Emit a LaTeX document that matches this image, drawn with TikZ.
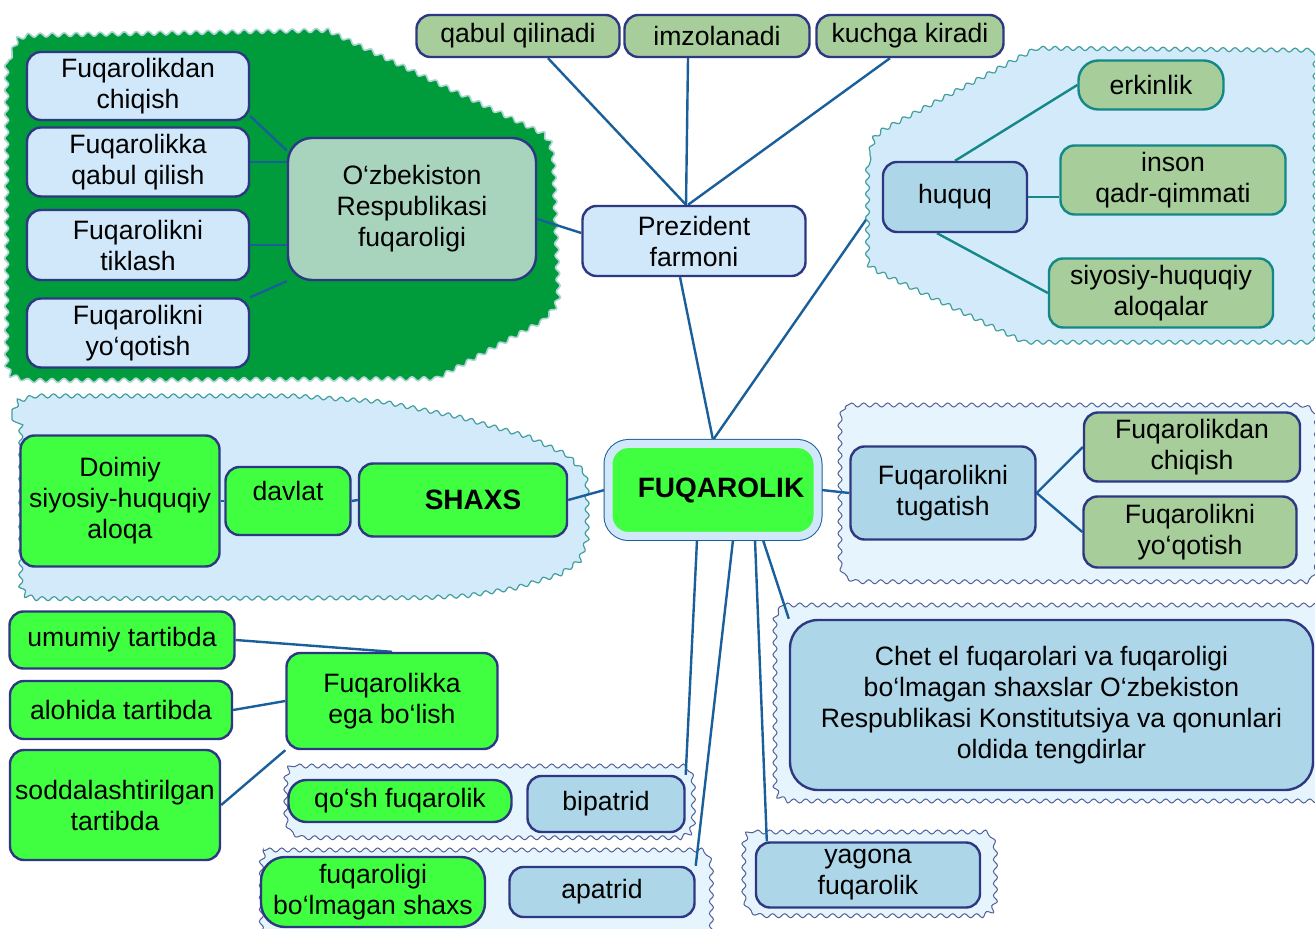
\documentclass[tikz,border=0pt]{standalone}
\usepackage{fontspec}
\setmainfont{Liberation Sans}
\usetikzlibrary{positioning,calc,decorations.pathmorphing}
\pgfdeclarelayer{back}
\pgfdeclarelayer{zones}
\pgfdeclarelayer{links}
\pgfsetlayers{back,zones,links,main}

\definecolor{cnavy}{RGB}{46,56,130}
\definecolor{cline}{RGB}{25,95,155}
\definecolor{cteal}{RGB}{20,135,135}
\definecolor{cpale}{RGB}{208,232,250}
\definecolor{csky}{RGB}{173,214,232}
\definecolor{clime}{RGB}{64,255,64}
\definecolor{csage}{RGB}{166,205,154}
\definecolor{cmint}{RGB}{168,212,190}
\definecolor{cforest}{RGB}{0,155,58}
\definecolor{czone}{RGB}{210,234,250}
\definecolor{cfaint}{RGB}{230,244,253}
\definecolor{cslate}{RGB}{80,95,150}

\begin{document}
\begin{tikzpicture}[
    x=0.5pt, y=-0.5pt,
    font=\fontsize{13.3}{15.5}\selectfont,
    box/.style={rectangle, rounded corners=7pt, draw=cnavy, line width=1.2pt, align=center, inner sep=0pt},
    palebox/.style={box, fill=cpale},
    skybox/.style={box, fill=csky},
    limebox/.style={box, fill=clime},
    sagebox/.style={box, fill=csage},
    tealbox/.style={box, fill=csage, draw=cteal},
    link/.style={draw=cline, line width=1.2pt},
    tlink/.style={draw=cteal, line width=1.2pt},
    zone/.style={decorate, decoration={snake, segment length=6pt, amplitude=1pt}},
    bluezone/.style={zone, fill=czone, draw=cteal!80, line width=0.6pt},
    faintzone/.style={zone, fill=cfaint, draw=cslate, line width=0.5pt},
  ]

    \begin{pgfonlayer}{back}
      \fill[white] (0,0) rectangle (1315,929);
    \end{pgfonlayer}
    \useasboundingbox (0,0) rectangle (1315,929);

    % --- zones ---
    \begin{pgfonlayer}{zones}
      \path[zone, fill=cforest, draw=white!65!cteal, line width=0.8pt]
        (12,52) -- (17,41) -- (30,37) -- (330,32) -- (545,135) -- (553,145) -- (556,160)
        -- (561,300) -- (556,314) -- (545,326) -- (440,383) -- (30,385) -- (17,381) -- (12,370) -- cycle;
      \path[bluezone]
        (870,152) -- (873,142) -- (882,134) -- (1040,50) -- (1313,52) -- (1313,342)
        -- (1027,342) -- (882,272) -- (873,266) -- (870,256) -- cycle;
      \path[bluezone]
        (12,414) -- (18,402) -- (32,398) -- (290,398) -- (380,404) -- (460,420) -- (530,440)
        -- (568,458) -- (582,472) -- (585,488) -- (585,540) -- (578,560) -- (555,576)
        -- (510,590) -- (460,598) -- (420,600) -- (32,601) -- (18,597) -- (12,586) -- cycle;
      % tugatish
      \path[faintzone] (848,405) -- (1300,405) -- (1309,409) -- (1312,418) -- (1312,565) -- (1309,574)
        -- (1300,578) -- (848,578) -- (839,574) -- (836,565) -- (836,418) -- (839,409) -- cycle;
      % chet el
      \path[faintzone] (784,605) -- (1318,605) -- (1318,800) -- (784,800) -- (775,796) -- (772,787)
        -- (772,618) -- (775,609) -- cycle;
      % bipatrid
      \path[faintzone] (296,766) -- (678,766) -- (687,770) -- (690,779) -- (690,825) -- (687,834)
        -- (678,838) -- (296,838) -- (287,834) -- (284,825) -- (284,779) -- (287,770) -- cycle;
      % apatrid
      \path[faintzone] (266,850) -- (696,850) -- (705,854) -- (708,863) -- (708,940) -- (254,940)
        -- (254,863) -- (257,854) -- cycle;
      % yagona
      \path[faintzone] (754,832) -- (981,832) -- (990,836) -- (993,845) -- (993,902) -- (990,911)
        -- (981,915) -- (754,915) -- (745,911) -- (742,902) -- (742,845) -- (745,836) -- cycle;
    \end{pgfonlayer}

    % --- top ---
    \node[sagebox, minimum width=101.5pt, minimum height=21pt] (qabul) at (518,36) {qabul qilinadi};
    \node[sagebox, minimum width=92.5pt, minimum height=21pt] (imzo) at (717,36) {imzolanadi};
    \node[sagebox, minimum width=93.5pt, minimum height=21pt] (kuchga) at (910,36) {kuchga kiradi};
    \node[palebox, minimum width=111.5pt, minimum height=35pt] (prez) at (694,241) {Prezident\\farmoni};

    % --- green zone ---
    \node[palebox, minimum width=111pt, minimum height=34pt] (chiqL) at (138,86) {Fuqarolikdan\\chiqish};
    \node[palebox, minimum width=111pt, minimum height=34.5pt] (qabulL) at (138,162) {Fuqarolikka\\qabul qilish};
    \node[palebox, minimum width=111pt, minimum height=35pt] (tiklash) at (138,245) {Fuqarolikni\\tiklash};
    \node[palebox, minimum width=111pt, minimum height=34.5pt] (yoqL) at (138,333) {Fuqarolikni\\yo‘qotish};
    \node[box, fill=cmint, minimum width=124pt, minimum height=71pt, rounded corners=12pt] (uzb) at (412,209) {O‘zbekiston\\Respublikasi\\fuqaroligi};

    % --- huquq zone ---
    \node[skybox, minimum width=72pt, minimum height=35pt] (huquq) at (955,197) {huquq};
    \node[tealbox, minimum width=72.5pt, minimum height=24.5pt, rounded corners=10pt] (erkin) at (1151,85) {erkinlik};
    \node[tealbox, minimum width=112.5pt, minimum height=34.5pt] (inson) at (1173,180) {inson\\qadr-qimmati};
    \node[tealbox, minimum width=112pt, minimum height=34.5pt] (siyosiy) at (1161,293) {siyosiy-huquqiy\\aloqalar};

    % --- centre ---
    \node[box, fill=clime, draw=cpale, line width=4pt, rounded corners=10pt,
          preaction={draw=cline, line width=5pt},
          minimum width=104.5pt, minimum height=46pt, font=\fontsize{14}{16}\selectfont\bfseries] (fuq) at (713,490) {\hspace{8pt}FUQAROLIK};

    % --- shaxs zone ---
    \node[limebox, minimum width=99.5pt, minimum height=65.5pt] (doimiy) at (120,501) {Doimiy\\siyosiy-huquqiy\\aloqa};
    \node[limebox, minimum width=62.5pt, minimum height=34pt] (davlat) at (288,501) {\raisebox{10pt}{davlat}};
    \node[limebox, minimum width=104pt, minimum height=36.5pt, font=\fontsize{14}{16}\selectfont\bfseries] (shaxs) at (463,500) {\hspace{10pt}SHAXS};

    % --- tugatish zone ---
    \node[skybox, minimum width=92.5pt, minimum height=46.5pt] (tugat) at (943,493) {Fuqarolikni\\tugatish};
    \node[sagebox, minimum width=108pt, minimum height=34.5pt] (chiqR) at (1192,447) {Fuqarolikdan\\chiqish};
    \node[sagebox, minimum width=106.5pt, minimum height=35.5pt] (yoqR) at (1190,532) {Fuqarolikni\\yo‘qotish};

    \node[skybox, minimum width=261.5pt, minimum height=85pt, rounded corners=14pt] (chet) at (1051.5,705)
      {Chet el fuqarolari va fuqaroligi\\bo‘lmagan shaxslar O‘zbekiston\\Respublikasi Konstitutsiya va qonunlari\\oldida tengdirlar};

    % --- lower left ---
    \node[limebox, minimum width=112.5pt, minimum height=28.5pt] (umumiy) at (122,640) {umumiy tartibda};
    \node[limebox, minimum width=111pt, minimum height=29pt] (alohida) at (121,710) {alohida tartibda};
    \node[limebox, minimum width=105pt, minimum height=55pt] (sodda) at (115,805) {soddalashtirilgan\\tartibda};
    \node[limebox, minimum width=105.5pt, minimum height=48pt] (fuqega) at (392,701) {Fuqarolikka\\ega bo‘lish};

    % --- bottom ---
    \node[limebox, minimum width=111.5pt, minimum height=21pt, rounded corners=9pt] (qosh) at (400,801) {qo‘sh fuqarolik};
    \node[skybox, minimum width=78.5pt, minimum height=28pt] (bipat) at (606,804) {bipatrid};
    \node[limebox, minimum width=112pt, minimum height=35pt, rounded corners=12pt] (fuqbolm) at (373,892) {fuqaroligi\\bo‘lmagan shaxs};
    \node[skybox, minimum width=92.5pt, minimum height=25pt] (apat) at (602,892) {apatrid};
    \node[skybox, minimum width=112pt, minimum height=32.5pt] (yagona) at (868,875) {yagona\\fuqarolik};

    % --- connectors ---
    \begin{pgfonlayer}{back}
      \draw[link] (fuq.north) -- (huquq.west);
    \end{pgfonlayer}
    \begin{pgfonlayer}{links}
      \draw[link] ([xshift=-4pt]prez.north) -- ([xshift=15pt]qabul.south);
      \draw[link] ([xshift=-4pt]prez.north) -- ([xshift=-14.5pt]imzo.south);
      \draw[link] ([xshift=-3pt]prez.north) -- ([xshift=-10pt]kuchga.south);
      \draw[link] ([xshift=-7pt]prez.south) -- (fuq.north);
      \draw[link] ([yshift=-5pt]uzb.east) -- ([yshift=4pt]prez.west);

      \draw[link] (chiqL.-15) -- (uzb.155);
      \draw[link] (qabulL.east) -- (qabulL.east -| uzb.west);
      \draw[link] (tiklash.east) -- (tiklash.east -| uzb.west);
      \draw[link] (yoqL.north east) -- (uzb.south west);

      \draw[tlink] (huquq.north) -- (erkin.west);
      \draw[tlink] (huquq.east) -- (huquq.east -| inson.west);
      \draw[tlink] ([xshift=-9pt]huquq.south) -- (siyosiy.west);

      \draw[link] (fuq.west) -- (shaxs.east);
      \draw[link] (shaxs.west) -- (davlat.east);
      \draw[link] (davlat.west) -- (doimiy.east);

      \draw[link] (fuq.east) -- (tugat.west);
      \draw[link] (tugat.east) -- (chiqR.west);
      \draw[link] (tugat.east) -- (yoqR.west);

      \draw[link] ([xshift=-8pt]fuq.south) -- (bipat.north east);
      \draw[link] ([xshift=10pt]fuq.south) -- (apat.north east);
      \draw[link] ([xshift=21pt]fuq.south) -- ([xshift=6pt]yagona.north west);
      \draw[link] ([xshift=25pt]fuq.south) -- (chet.north west);

      \draw[link] (umumiy.east) -- (fuqega.north);
      \draw[link] (alohida.east) -- (fuqega.west);
      \draw[link] (sodda.east) -- (fuqega.south west);
    \end{pgfonlayer}

  \end{tikzpicture}
\end{document}
